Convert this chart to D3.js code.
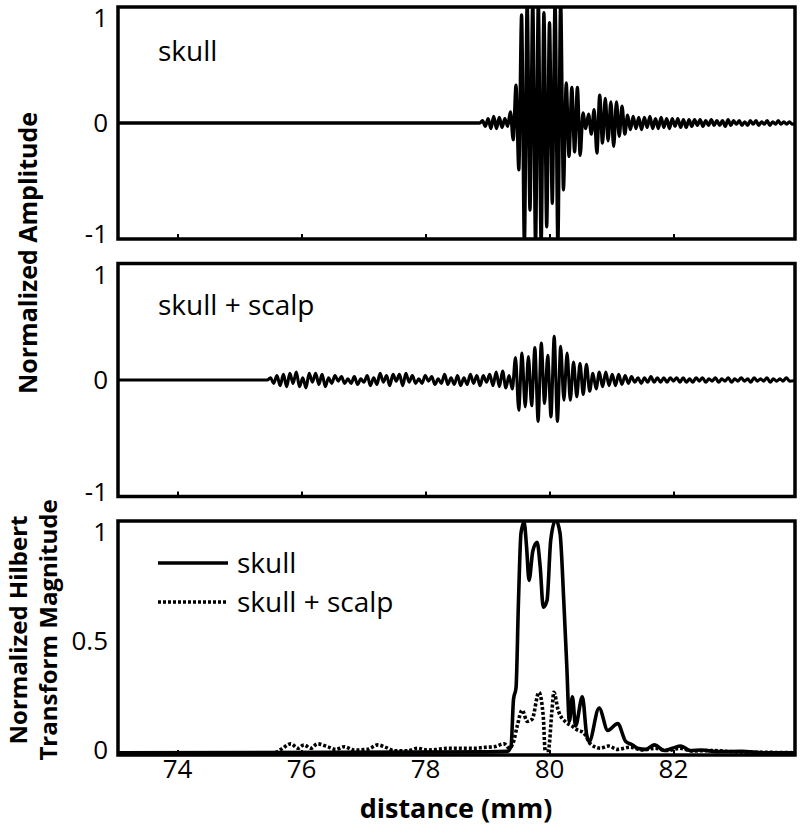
<!DOCTYPE html>
<html>
<head>
<meta charset="utf-8">
<script src="https://cdn.jsdelivr.net/npm/d3@7/dist/d3.min.js"></script>
<style>
  body { margin: 0; background: #fff; }
  text { font-family: "Open Sans", sans-serif; fill: #000; }
</style>
</head>
<body>
<div class="chart"></div>
<script>
// tick values
var xTicks = [74, 76, 78, 80, 82];
var ampTicks = [-1, 0, 1];
var hilbertTicks = [0, 0.5, 1];

// skull only: RF trace, extrema read every half period
var skullStart = 78.92, skullStep = 0.045;
var skullWave = [
  0.02, -0.03, 0.04, -0.05, 0.06, -0.05, 0.05, -0.04, 0.04, -0.03,
  0.1, -0.15, 0.34, -0.42, 0.97, -1.1, 1.1, -0.78, 1.1, -1.1,
  1.1, -1.1, 0.99, -0.93, 0.9, -0.72, 1.1, -1.1, 1.1, -0.6,
  0.36, -0.3, 0.32, -0.26, 0.32, -0.29, 0.09, -0.05, 0.08, -0.1,
  0.12, -0.27, 0.25, -0.18, 0.22, -0.16, 0.19, -0.21, 0.19, -0.12,
  0.15, -0.1, 0.07, -0.06, 0.06, -0.05, 0.05, -0.06, 0.05, -0.04,
  0.06, -0.05, 0.04, -0.05, 0.05, -0.04, 0.04, -0.05, 0.04, -0.03,
  0.04, -0.04, 0.03, -0.04, 0.03, -0.03, 0.03, -0.02, 0.03, -0.03,
  0.02, -0.02, 0.03, -0.02, 0.02, -0.02, 0.02, -0.03, 0.03, -0.02,
  0.02, -0.01, 0.02, -0.02, 0.01, -0.02, 0.02, -0.01, 0.02, -0.02,
  0.01, -0.01, 0.02, -0.02, 0.01, -0.01, 0.02, -0.01, 0.01, -0.01,
  0.01, -0.01
];

// skull + scalp: RF trace
var scalpStart = 75.5, scalpStep = 0.052;
var scalpWave = [
  0.02, -0.03, 0.04, -0.05, 0.05, -0.06, 0.06, -0.03, 0.07, -0.06,
  0.02, -0.07, 0.06, -0.02, 0.06, -0.04, 0.05, -0.06, 0.02, -0.03,
  0.04, -0.01, 0.03, -0.03, 0.01, -0.03, 0.03, -0.04, 0.01, -0.02,
  0.04, -0.05, 0.02, -0.04, 0.06, -0.02, 0.04, -0.05, 0.05, -0.01,
  0.05, -0.05, 0.06, -0.02, 0.04, -0.03, 0.01, -0.03, 0.04, -0.01,
  0.03, -0.04, 0.01, -0.03, 0.05, -0.04, 0.02, -0.04, 0.04, -0.05,
  0.02, -0.04, 0.05, -0.03, 0.04, -0.05, 0.04, -0.02, 0.05, -0.05,
  0.07, -0.06, 0.08, -0.07, 0.04, -0.08, 0.2, -0.27, 0.24, -0.24,
  0.21, -0.23, 0.29, -0.37, 0.33, -0.21, 0.22, -0.33, 0.39, -0.37,
  0.3, -0.18, 0.24, -0.18, 0.16, -0.15, 0.15, -0.13, 0.14, -0.1,
  0.06, -0.08, 0.07, -0.06, 0.07, -0.05, 0.05, -0.05, 0.05, -0.04,
  0.04, -0.03, 0.03, -0.02, 0.02, -0.03, 0.02, -0.02, 0.03, -0.02,
  0.02, -0.02, 0.02, -0.02, 0.02, -0.01, 0.02, -0.02, 0.02, -0.02,
  0.01, -0.02, 0.02, -0.01, 0.02, -0.02, 0.01, -0.01, 0.02, -0.02,
  0.01, -0.01, 0.02, -0.02, 0.01, -0.01, 0.02, -0.01, 0.01, -0.02,
  0.02, -0.01, 0.01, -0.01, 0.02, -0.02, 0.01, -0.01, 0.01, -0.01,
  0.02, -0.01
];

// Hilbert envelopes [distance, magnitude]
var skullEnvelope = [
  [73.0, 0.0], [79.0, 0.004], [79.32, 0.006], [79.38, 0.03], [79.42, 0.24],
  [79.46, 0.29], [79.5, 0.68], [79.54, 0.98], [79.59, 1.03], [79.63, 0.92],
  [79.67, 0.77], [79.73, 0.9], [79.8, 0.94], [79.85, 0.83], [79.9, 0.65],
  [79.96, 0.68], [80.02, 0.95], [80.1, 1.04], [80.17, 0.98], [80.23, 0.68],
  [80.28, 0.38], [80.32, 0.14], [80.37, 0.25], [80.42, 0.12], [80.53, 0.25],
  [80.6, 0.08], [80.64, 0.05], [80.8, 0.2], [80.94, 0.1], [81.1, 0.13],
  [81.23, 0.05], [81.34, 0.035], [81.42, 0.02], [81.55, 0.015], [81.69, 0.035],
  [81.85, 0.01], [81.98, 0.02], [82.12, 0.03], [82.27, 0.01], [82.45, 0.012],
  [82.7, 0.005], [83.1, 0.006], [83.46, 0.0], [84.0, 0.0]
];
var scalpEnvelope = [
  [73.0, 0.0], [75.56, 0.0], [75.67, 0.015], [75.83, 0.04], [75.94, 0.02],
  [76.04, 0.035], [76.15, 0.02], [76.26, 0.04], [76.42, 0.027], [76.55, 0.015],
  [76.69, 0.027], [76.85, 0.012], [77.06, 0.015], [77.23, 0.035], [77.36, 0.024],
  [77.5, 0.009], [77.71, 0.009], [77.87, 0.02], [78.03, 0.012], [78.19, 0.015],
  [78.35, 0.02], [78.57, 0.02], [78.79, 0.02], [78.95, 0.024], [79.11, 0.027],
  [79.27, 0.04], [79.35, 0.02], [79.42, 0.05], [79.48, 0.12], [79.56, 0.19],
  [79.64, 0.14], [79.72, 0.15], [79.83, 0.27], [79.9, 0.16], [79.93, 0.01],
  [79.98, 0.01], [80.04, 0.19], [80.07, 0.27], [80.14, 0.19], [80.25, 0.14],
  [80.36, 0.12], [80.46, 0.1], [80.55, 0.09], [80.66, 0.04], [80.82, 0.02],
  [80.95, 0.03], [81.1, 0.015], [81.3, 0.025], [81.5, 0.012], [81.7, 0.02],
  [81.9, 0.01], [82.1, 0.02], [82.3, 0.008], [82.6, 0.01], [83.0, 0.004],
  [83.5, 0.002], [84.0, 0.0]
];

var svgWidth = 801;
var svgHeight = 826;

var svg = d3.select(".chart")
  .append("svg")
  .attr("width", svgWidth)
  .attr("height", svgHeight);

var xScale = d3.scaleLinear()
  .domain([73.04, 83.96])
  .range([118, 795]);

// trace = flat zero before and after the recorded extrema
function toPoints(start, step, values) {
  var pts = [[73.0, 0], [start - step, 0]];
  values.forEach(function(v, i) { pts.push([start + i * step, v]); });
  pts.push([84.0, 0]);
  return pts;
}

var panels = [
  { id: "top", top: 7, bottom: 239, domain: [-1.04, 1.04], ticks: ampTicks, label: "skull" },
  { id: "mid", top: 263.5, bottom: 496.5, domain: [-1.04, 1.04], ticks: ampTicks, label: "skull + scalp" },
  { id: "bot", top: 521, bottom: 755, domain: [-0.01, 1.035], ticks: hilbertTicks, label: null }
];

panels.forEach(function(p) {
  p.y = d3.scaleLinear().domain(p.domain).range([p.bottom, p.top]);
  var g = svg.append("g").attr("class", "panel-" + p.id);

  g.append("clipPath").attr("id", "clip-" + p.id)
    .append("rect")
    .attr("x", 118).attr("y", p.top)
    .attr("width", 795 - 118).attr("height", p.bottom - p.top);

  p.plot = g.append("g").attr("clip-path", "url(#clip-" + p.id + ")");
  p.g = g;

  // y tick labels, kept inside the frame height
  g.selectAll("text.ytick")
    .data(p.ticks)
    .enter()
    .append("text")
    .attr("class", "ytick")
    .attr("x", 108)
    .attr("y", d => Math.max(p.top + 11, Math.min(p.bottom - 5, p.y(d))))
    .attr("dy", "0.36em")
    .attr("text-anchor", "end")
    .attr("font-size", "26px")
    .text(d => d);
});

// waveforms
var wave = function(p) {
  return d3.line()
    .x(d => xScale(d[0]))
    .y(d => p.y(d[1]))
    .curve(d3.curveMonotoneX);
};

panels[0].plot.append("path")
  .datum(toPoints(skullStart, skullStep, skullWave))
  .attr("d", wave(panels[0]))
  .attr("fill", "none")
  .attr("stroke", "#000")
  .attr("stroke-width", 3.3);

panels[1].plot.append("path")
  .datum(toPoints(scalpStart, scalpStep, scalpWave))
  .attr("d", wave(panels[1]))
  .attr("fill", "none")
  .attr("stroke", "#000")
  .attr("stroke-width", 3.1);

var env = d3.line()
  .x(d => xScale(d[0]))
  .y(d => panels[2].y(d[1]))
  .curve(d3.curveMonotoneX);

panels[2].plot.append("path")
  .datum(scalpEnvelope)
  .attr("d", env)
  .attr("fill", "none")
  .attr("stroke", "#000")
  .attr("stroke-width", 3.6)
  .attr("stroke-dasharray", "3,2");

panels[2].plot.append("path")
  .datum(skullEnvelope)
  .attr("d", env)
  .attr("fill", "none")
  .attr("stroke", "#000")
  .attr("stroke-width", 3.6);

// frames and inward ticks
panels.forEach(function(p) {
  var bottomAxis = d3.axisBottom(xScale)
    .tickValues(xTicks)
    .tickSizeInner(-5)
    .tickSizeOuter(0)
    .tickFormat("");
  var ax = p.g.append("g")
    .attr("transform", `translate(0, ${p.bottom})`)
    .call(bottomAxis);
  ax.select(".domain").remove();
  ax.selectAll("line").attr("stroke", "#000").attr("stroke-width", 2);

  p.g.append("rect")
    .attr("x", 118).attr("y", p.top)
    .attr("width", 795 - 118).attr("height", p.bottom - p.top)
    .attr("fill", "none")
    .attr("stroke", "#000")
    .attr("stroke-width", 3.5);

  if (p.label) {
    p.g.append("text")
      .attr("x", 158)
      .attr("y", p.id == "top" ? 61 : 315)
      .attr("font-size", "28px")
      .text(p.label);
  }
});

// x tick labels under the last panel
svg.append("g")
  .selectAll("text")
  .data(xTicks)
  .enter()
  .append("text")
  .attr("x", d => xScale(d))
  .attr("y", 778)
  .attr("text-anchor", "middle")
  .attr("font-size", "26px")
  .text(d => d);

// legend
var legend = [
  { name: "skull", dash: null, y: 563 },
  { name: "skull + scalp", dash: "3,2", y: 602 }
];
var legendG = svg.append("g");
legend.forEach(function(l) {
  legendG.append("line")
    .attr("x1", 158).attr("x2", 228)
    .attr("y1", l.y).attr("y2", l.y)
    .attr("stroke", "#000")
    .attr("stroke-width", 3.6)
    .attr("stroke-dasharray", l.dash);
  legendG.append("text")
    .attr("x", 237)
    .attr("y", l.y)
    .attr("dy", "0.36em")
    .attr("font-size", "28px")
    .text(l.name);
});

// axis titles
svg.append("text")
  .attr("transform", "translate(37, 253) rotate(-90)")
  .attr("text-anchor", "middle")
  .attr("font-weight", "bold")
  .attr("font-size", "25px")
  .text("Normalized Amplitude");

svg.append("text")
  .attr("transform", "translate(27, 630) rotate(-90)")
  .attr("text-anchor", "middle")
  .attr("font-weight", "bold")
  .attr("font-size", "24px")
  .text("Normalized Hilbert");

svg.append("text")
  .attr("transform", "translate(57, 630) rotate(-90)")
  .attr("text-anchor", "middle")
  .attr("font-weight", "bold")
  .attr("font-size", "24px")
  .text("Transform Magnitude");

svg.append("text")
  .attr("x", 456)
  .attr("y", 818)
  .attr("text-anchor", "middle")
  .attr("font-weight", "bold")
  .attr("font-size", "27px")
  .text("distance (mm)");
</script>
</body>
</html>
